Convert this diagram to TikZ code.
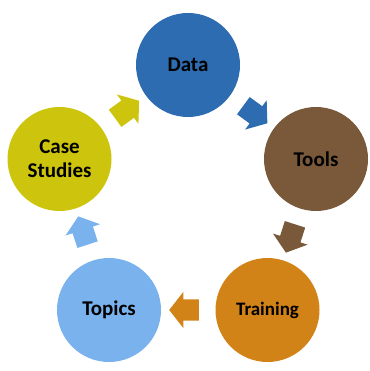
\documentclass[tikz,border=0pt]{standalone}
\usepackage{fontspec}
\setmainfont{Carlito}
\usetikzlibrary{shapes.arrows}

\definecolor{datablue}{RGB}{45,108,176}
\definecolor{toolsbrown}{RGB}{122,88,58}
\definecolor{trainorange}{RGB}{210,131,24}
\definecolor{topicsblue}{RGB}{122,178,238}
\definecolor{caseyellow}{RGB}{205,196,14}

\begin{document}
\begin{tikzpicture}[
    x=1pt, y=-1pt,
    stage/.style={circle, minimum size=104pt, inner sep=0pt, align=center,
        font=\fontsize{21}{24}\selectfont\bfseries},
    flow/.style={single arrow, draw=none, inner sep=10.5pt, minimum height=27pt,
        minimum width=36pt, single arrow head extend=7.5pt,
        single arrow tip angle=104, sloped, allow upside down, midway}
]
    \useasboundingbox (0,0) rectangle (369,371);

    \node [stage, fill=datablue] (data) at (188,65) {Data};
    \node [stage, fill=toolsbrown] (tools) at (316,159) {Tools};
    \node [stage, fill=trainorange, font=\fontsize{19}{22}\selectfont\bfseries] (training) at (267.5,310) {Training};
    \node [stage, fill=topicsblue] (topics) at (109,310) {Topics};
    \node [stage, fill=caseyellow] (case) at (59.5,159) {Case\\Studies};

    \path (data) -- (tools) node [flow, fill=datablue] {};
    \path (tools) -- (training) node [flow, fill=toolsbrown] {};
    \path (training) -- (topics) node [flow, fill=trainorange] {};
    \path (topics) -- (case) node [flow, fill=topicsblue] {};
    \path (case) -- (data) node [flow, fill=caseyellow] {};
\end{tikzpicture}
\end{document}
